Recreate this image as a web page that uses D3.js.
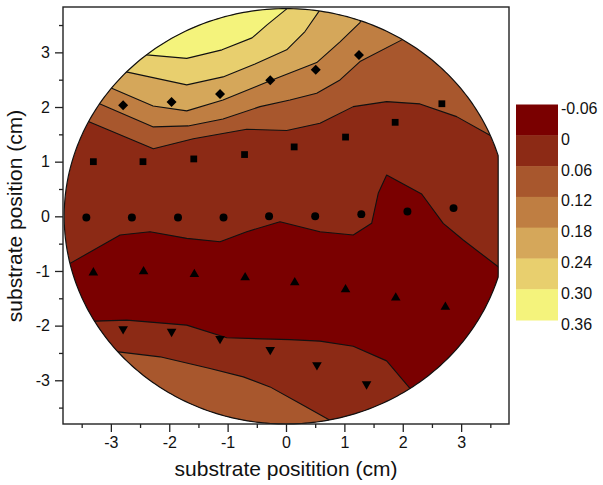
<!DOCTYPE html>
<html><head><meta charset="utf-8">
<script src="https://cdn.jsdelivr.net/npm/d3@7"></script>
<style>body{margin:0;background:#fff} svg{display:block}</style>
</head><body>
<svg id="c" width="603" height="485"></svg>
<script>
// ---------- data ----------
const legendLabels = ["-0.06","0","0.06","0.12","0.18","0.24","0.30","0.36"];
const bandColors = ["#7a0000","#8c2a15","#a8572d","#bf7e42","#d5a75a","#e8cf6e","#f4f37c"];
const xTicks = [-3,-2,-1,0,1,2,3];
const yTicks = [-3,-2,-1,0,1,2,3];
const xMinor = [-3.5,-2.5,-1.5,-0.5,0.5,1.5,2.5,3.5];
const yMinor = [-3.5,-2.5,-1.5,-0.5,0.5,1.5,2.5,3.5];
const waferRadius = 3.8;
const gridRight = 3.635;

// isolines (x, y in cm)
const iso030 = [[-2.385,2.954],[-1.700,2.890],[-1.096,3.046],[-0.582,3.265],[-0.325,3.504],[0.012,3.797]];
const iso024 = [[-2.757,2.648],[-1.700,2.405],[-1.079,2.551],[-0.531,2.788],[0.012,3.046],[0.325,3.381],[0.582,3.778]];
const iso018 = [[-2.985,2.344],[-2.277,2.020],[-1.700,1.929],[-1.079,2.130],[-0.531,2.368],[-0.240,2.496],[0.526,2.813],[0.925,3.192],[1.267,3.546]];
const iso012 = [[-3.214,2.070],[-2.272,1.636],[-1.678,1.654],[-1.079,1.782],[-0.445,2.007],[0.068,2.128],[0.526,2.253],[0.925,2.496],[1.267,2.832],[2.009,3.242]];
const iso006Top = [[-3.385,1.733],[-2.272,1.236],[-1.587,1.419],[-0.673,1.593],[0.012,1.571],[0.582,1.703],[1.152,2.007],[1.724,2.099],[2.295,2.057],[2.923,1.824],[3.493,1.485]];
const iso000Top = [[-3.699,-0.861],[-2.842,-0.342],[-2.329,-0.282],[-1.700,-0.403],[-1.130,-0.465],[-0.673,-0.282],[-0.103,-0.099],[0.582,-0.282],[1.152,-0.342],[1.467,-0.128],[1.580,0.421],[1.724,0.756],[2.324,0.408],[2.693,-0.128],[3.036,-0.434],[3.635,-0.923]];
const iso000Bottom = [[-3.271,-1.918],[-2.728,-1.900],[-1.700,-1.991],[-1.015,-2.223],[0.068,-2.256],[0.582,-2.284],[1.152,-2.376],[1.724,-2.645],[2.123,-3.150]];
const iso006Bottom = [[-2.872,-2.480],[-2.158,-2.571],[-1.301,-2.784],[-0.731,-2.938],[-0.274,-3.121],[0.240,-3.425],[0.753,-3.731]];

// measurement points
const diamondX = [-2.79,-1.96,-1.13,-0.27,0.51,1.25];
const diamondY = [2.03,2.09,2.24,2.49,2.68,2.95];
const squareX = [-3.30,-2.45,-1.58,-0.71,0.14,1.02,1.87,2.67];
const squareY = [1.00,1.00,1.05,1.13,1.27,1.45,1.72,2.06];
const circleX = [-3.42,-2.64,-1.85,-1.07,-0.29,0.50,1.29,2.08,2.87];
const circleY = [-0.02,-0.02,-0.02,-0.02,0.00,0.00,0.04,0.09,0.15];
const upX = [-3.30,-2.44,-1.57,-0.70,0.15,1.02,1.88,2.73];
const upY = [-1.03,-1.01,-1.06,-1.12,-1.21,-1.34,-1.49,-1.66];
const downX = [-2.79,-1.96,-1.13,-0.27,0.53,1.38];
const downY = [-2.06,-2.11,-2.24,-2.44,-2.72,-3.07];

// ---------- layout ----------
const L = 63, R = 509, T = 7, B = 424;
const x = d3.scaleLinear().domain([-3.82, 3.82]).range([L, R]);
const y = d3.scaleLinear().domain([-3.80, 3.83]).range([B, T]);
const svg = d3.select("#c");
const font = "'Liberation Sans', Arial, Helvetica, sans-serif";
const line = d3.line().x(d => x(d[0])).y(d => y(d[1]));

// wafer outline (circle clipped at the grid's right edge)
const outline = d3.range(0, 361, 1).map(a => {
  const t = a * Math.PI / 180;
  return [Math.min(gridRight, waferRadius * Math.cos(t)), waferRadius * Math.sin(t)];
});
svg.append("clipPath").attr("id", "wafer").append("path").attr("d", line(outline) + "Z");

// region on one side of an isoline: line + outer arc
function region(pts, dir) {
  const first = pts[0], last = pts[pts.length - 1];
  const aEnd = Math.atan2(last[1], last[0]);
  const aStart = Math.atan2(first[1], first[0]);
  let delta = aStart - aEnd;
  if (dir > 0) { while (delta < 0) delta += 2 * Math.PI; }
  else { while (delta > 0) delta -= 2 * Math.PI; }
  const out = pts.slice();
  for (let i = 0; i <= 60; i++) {
    const a = aEnd + delta * i / 60;
    out.push([6 * Math.cos(a), 6 * Math.sin(a)]);
  }
  return out;
}
function extended(pts) {
  const ext = p => { const r = Math.hypot(p[0], p[1]); return [p[0] * 4.3 / r, p[1] * 4.3 / r]; };
  return [ext(pts[0])].concat(pts, [ext(pts[pts.length - 1])]);
}

const g = svg.append("g").attr("clip-path", "url(#wafer)");
g.append("path").attr("d", line(outline) + "Z").attr("fill", bandColors[1]);
const fills = [
  [iso006Top, 1, 2], [iso012, 1, 3], [iso018, 1, 4], [iso024, 1, 5], [iso030, 1, 6],
  [iso000Top, -1, 0], [iso000Bottom, -1, 1], [iso006Bottom, -1, 2]
];
fills.forEach(([pts, dir, ci]) => {
  g.append("path").attr("d", line(region(pts, dir)) + "Z").attr("fill", bandColors[ci]);
});
[iso030, iso024, iso018, iso012, iso006Top, iso000Top, iso000Bottom, iso006Bottom].forEach(pts => {
  g.append("path").attr("d", line(extended(pts))).attr("fill", "none")
    .attr("stroke", "#111").attr("stroke-width", 1.1).attr("stroke-linejoin", "round");
});
svg.append("path").attr("d", line(outline) + "Z").attr("fill", "none")
  .attr("stroke", "#111").attr("stroke-width", 1.2);

// markers
function markers(xs, ys, type, size, rot) {
  svg.append("g").selectAll("path").data(xs.map((v, i) => [v, ys[i]])).join("path")
    .attr("d", d3.symbol().type(type).size(size))
    .attr("transform", d => `translate(${x(d[0])},${y(d[1])}) rotate(${rot})`)
    .attr("fill", "#000");
}
markers(diamondX, diamondY, d3.symbolSquare, 50, 45);
markers(squareX, squareY, d3.symbolSquare, 46, 0);
markers(circleX, circleY, d3.symbolCircle, 50, 0);
markers(upX, upY, d3.symbolTriangle, 40, 0);
markers(downX, downY, d3.symbolTriangle, 40, 180);

// frame
svg.append("rect").attr("x", L).attr("y", T).attr("width", R - L).attr("height", B - T)
  .attr("fill", "none").attr("stroke", "#222").attr("stroke-width", 1.4);

// axes
const ax = svg.append("g").attr("transform", `translate(0,${B})`)
  .call(d3.axisBottom(x).tickValues(xTicks).tickSize(8).tickPadding(5).tickFormat(d => String(d)));
const axm = svg.append("g").attr("transform", `translate(0,${B})`)
  .call(d3.axisBottom(x).tickValues(xMinor).tickSize(4).tickFormat(""));
const ay = svg.append("g").attr("transform", `translate(${L},0)`)
  .call(d3.axisLeft(y).tickValues(yTicks).tickSize(8).tickPadding(5).tickFormat(d => String(d)));
const aym = svg.append("g").attr("transform", `translate(${L},0)`)
  .call(d3.axisLeft(y).tickValues(yMinor).tickSize(4).tickFormat(""));
[ax, axm, ay, aym].forEach(a => {
  a.select(".domain").remove();
  a.selectAll("line").attr("stroke", "#222").attr("stroke-width", 1.3);
  a.selectAll("text").attr("font-family", font).attr("font-size", 16).attr("fill", "#111");
});

svg.append("text").attr("x", 286).attr("y", 476).attr("text-anchor", "middle")
  .attr("font-family", font).attr("font-size", 21).attr("fill", "#111")
  .text("substrate positition (cm)");
svg.append("text").attr("transform", "translate(22,216) rotate(-90)").attr("text-anchor", "middle")
  .attr("font-family", font).attr("font-size", 21).attr("fill", "#111")
  .text("substrate position (cm)");

// legend
const ly = d3.scaleLinear().domain([0, 7]).range([104.5, 320]);
svg.append("g").selectAll("rect").data(bandColors).join("rect")
  .attr("x", 516).attr("width", 42)
  .attr("y", (d, i) => ly(i)).attr("height", ly(1) - ly(0) + 0.5)
  .attr("fill", d => d);
svg.append("g").selectAll("text").data(legendLabels).join("text")
  .attr("x", 561).attr("y", (d, i) => ly(i) + 9.5)
  .attr("font-family", font).attr("font-size", 16).attr("fill", "#111")
  .text(d => d);
</script>
</body></html>
